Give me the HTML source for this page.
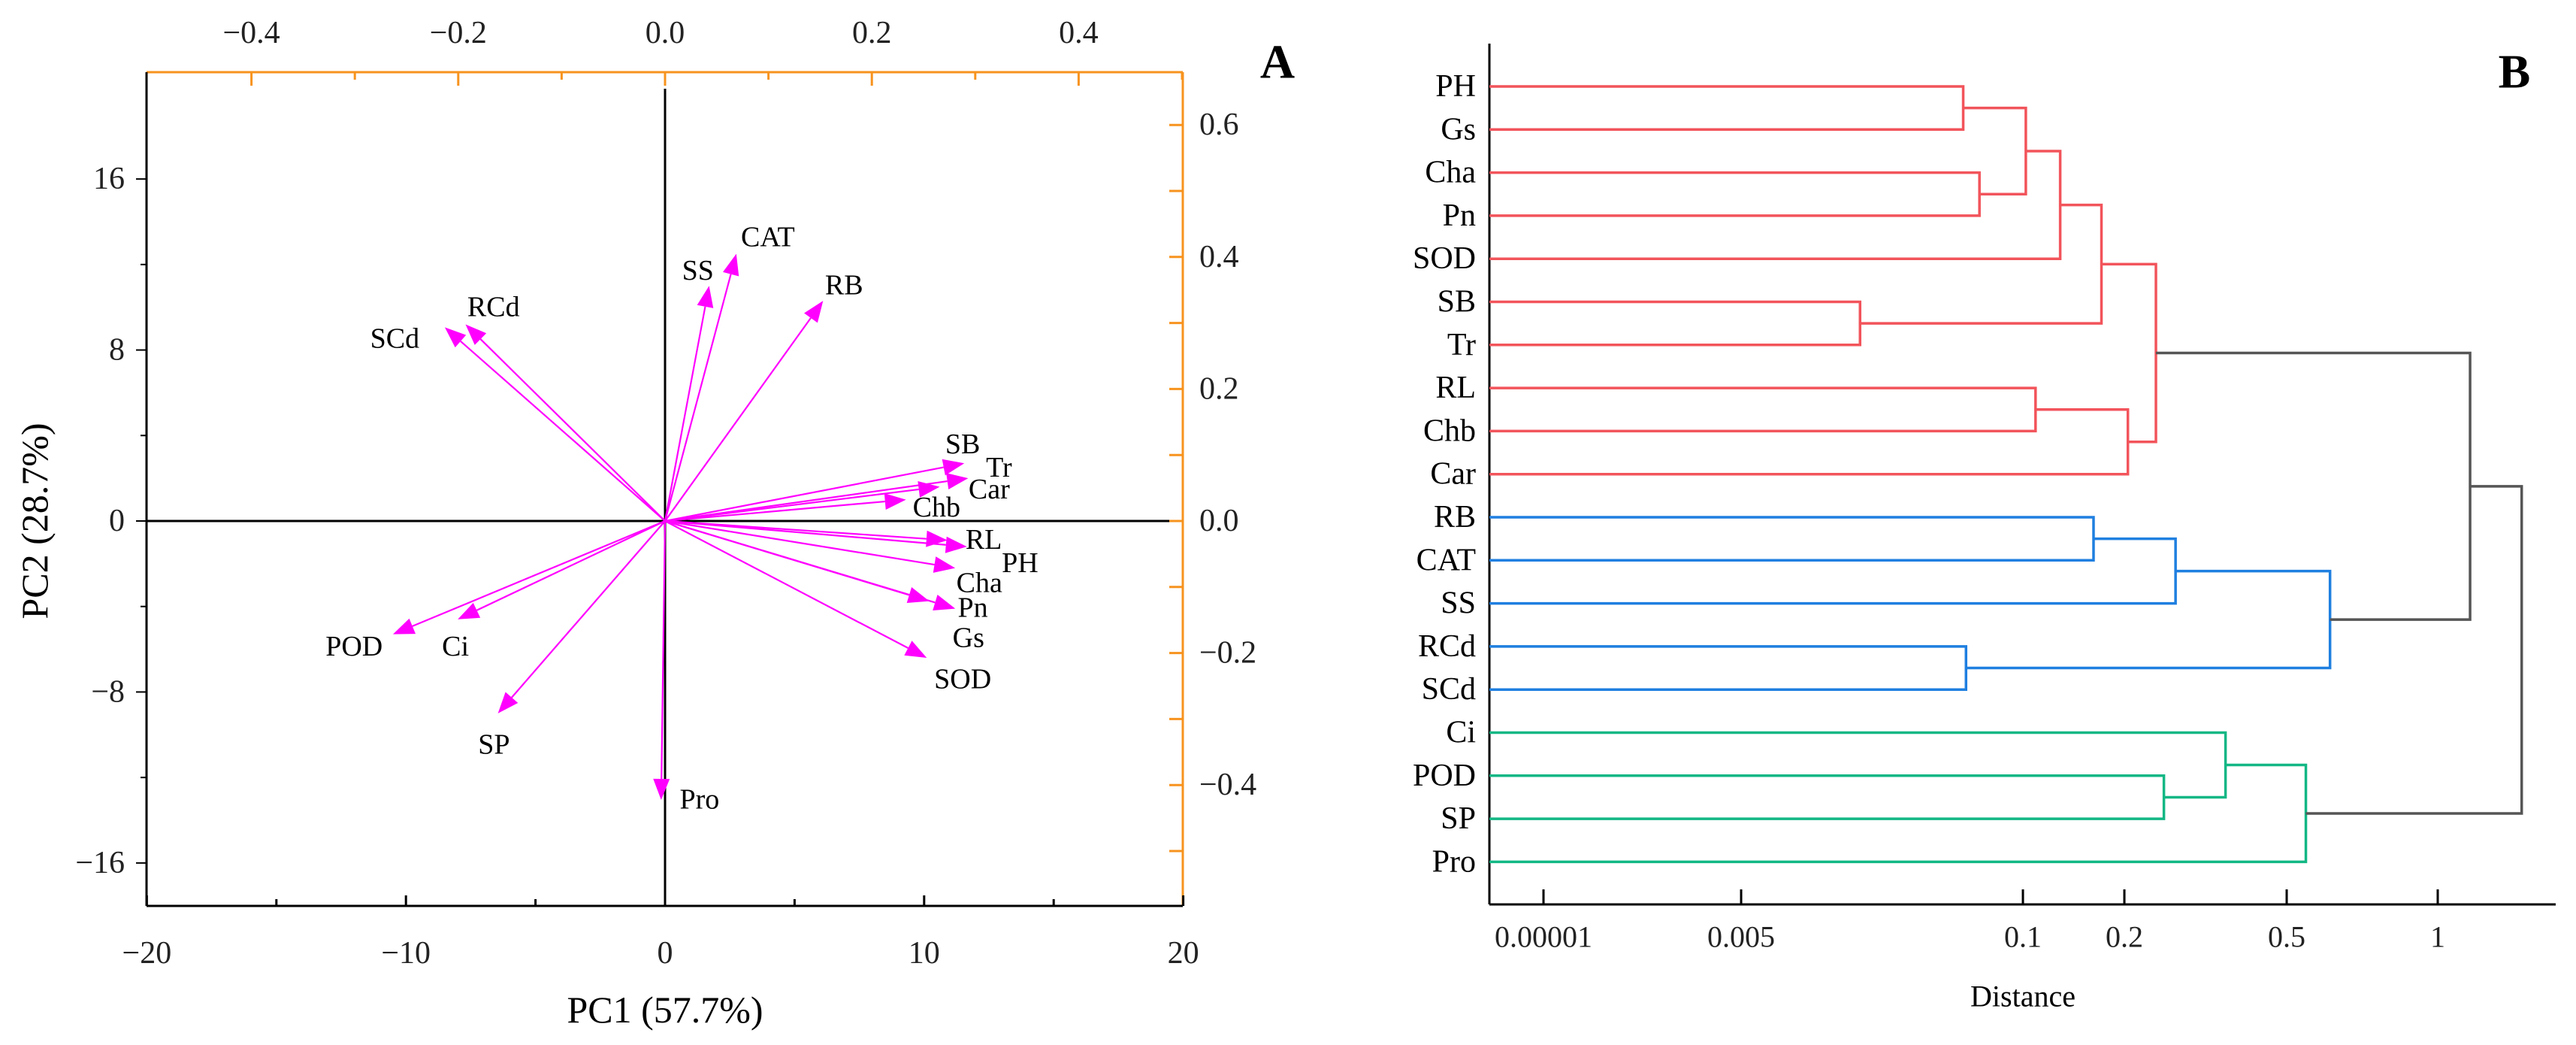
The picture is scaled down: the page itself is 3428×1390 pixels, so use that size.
<!DOCTYPE html>
<html><head><meta charset="utf-8"><style>
html,body{margin:0;padding:0;background:#fff;}
svg{display:block;font-family:"Liberation Serif","DejaVu Serif",serif;}
svg text{font-family:"Liberation Serif","DejaVu Serif",serif;}
</style></head><body>
<svg id="s" width="3428" height="1390" viewBox="0 0 3428 1390"></svg>
<script>
// ---------- Data: PCA biplot ----------
const varNames = ["SS","CAT","RB","RCd","SCd","SB","Tr","Car","Chb","RL","PH","Cha","Pn","Gs","SOD","POD","Ci","SP","Pro"];
const pc1Loadings = [1.7,2.75,6.1,-7.7,-8.5,11.55,11.7,10.6,9.3,10.9,11.65,11.2,11.2,10.2,10.1,-10.5,-8.0,-6.45,-0.15];
const pc2Loadings = [11.0,12.5,10.3,9.2,9.06,2.7,2.0,1.6,1.0,-0.9,-1.2,-2.2,-4.1,-3.75,-6.4,-5.3,-4.6,-9.0,-13.05];
const labelX = [1.27,3.97,6.91,-6.62,-10.43,11.49,12.89,12.51,10.48,12.3,13.7,12.13,11.88,11.71,11.49,-12.0,-8.09,-6.6,1.33];
const labelY = [11.72,13.28,11.03,10.0,8.53,3.59,2.5,1.47,0.63,-0.88,-1.97,-2.9,-4.06,-5.47,-7.4,-5.88,-5.88,-10.47,-13.03];
const xTicks = [-20,-10,0,10,20];
const yTicks = [-16,-8,0,8,16];
const topTicks = [-0.4,-0.2,0.0,0.2,0.4];
const rightTicks = [-0.4,-0.2,0.0,0.2,0.4,0.6];
// ---------- Data: dendrogram ----------
const leaves = ["PH","Gs","Cha","Pn","SOD","SB","Tr","RL","Chb","Car","RB","CAT","SS","RCd","SCd","Ci","POD","SP","Pro"];
const mergeA = [0,2,19,21,5,22,7,25,24,10,28,13,29,27,16,15,34,32];
const mergeB = [1,3,20,4,6,23,8,9,26,11,12,14,30,31,17,33,18,35];
const mergeH = [0.053,0.063,0.102,0.129,0.0177,0.171,0.109,0.204,0.239,0.162,0.267,0.0546,0.61,1.16,0.25,0.354,0.546,1.47];
const mergeC = ["r","r","r","r","r","r","r","r","r","b","b","b","b","g","g","g","g","g"];
const distTicks = [0.00001,0.005,0.1,0.2,0.5,1];
const distTickLabels = ["0.00001","0.005","0.1","0.2","0.5","1"];

const svg=document.getElementById('s');
const NS='http://www.w3.org/2000/svg';
function mk(tag,attrs,parent){const e=document.createElementNS(NS,tag);for(const k in attrs)e.setAttribute(k,attrs[k]);(parent||svg).appendChild(e);return e;}
function txt(x,y,s,size,anchor,parent,extra){const t=mk('text',Object.assign({x:x,y:y,'font-size':size,'font-family':'Liberation Serif, DejaVu Serif, serif','text-anchor':anchor||'middle','dominant-baseline':'central',fill:'#000'},extra||{}),parent);t.textContent=s;return t;}

// ----- Panel A scales -----
const X0=195,X1=1574,Y0=96,Y1=1205;
const sx=v=>885+v*34.48;
const sy=v=>693-v*28.43;
const stx=v=>885+v*1376;
const sry=v=>693-v*878;
const gA=mk('g',{});


let l;
l=mk('line',{x1:X0,y1:Y0,x2:X1,y2:Y0,stroke:'#f7931e','stroke-width':3},gA);

l=mk('line',{x1:X1,y1:Y0,x2:X1,y2:Y1,stroke:'#f7931e','stroke-width':3},gA);

l=mk('line',{x1:X0,y1:Y0,x2:X0,y2:Y1,stroke:'#000','stroke-width':3},gA);

l=mk('line',{x1:X0,y1:Y1,x2:X1,y2:Y1,stroke:'#000','stroke-width':3},gA);

l=mk('line',{x1:sx(0),y1:118,x2:sx(0),y2:Y1,stroke:'#000','stroke-width':3},gA);

l=mk('line',{x1:X0,y1:sy(0),x2:1556,y2:sy(0),stroke:'#000','stroke-width':3},gA);

for(let v=-20;v<=20;v+=5){mk('line',{x1:sx(v),y1:Y1,x2:sx(v),y2:Y1-(v%10===0?14:9),stroke:'#000','stroke-width':3},gA);}
xTicks.forEach(v=>{const t=txt(sx(v),1268,v<0?'\u2212'+Math.abs(v):String(v),42,'middle',gA,{fill:'#222'});});
for(let v=-16;v<=18;v+=4){mk('line',{x1:X0,y1:sy(v),x2:X0-(v%8===0?14:8),y2:sy(v),stroke:'#000','stroke-width':2},gA);}
yTicks.forEach(v=>{const t=txt(166,sy(v),v<0?'\u2212'+Math.abs(v):String(v),42,'end',gA,{fill:'#222'});});
for(let i=-4;i<=5;i++){const v=i/10;const x=stx(v);if(x<X0||x>X1)continue;mk('line',{x1:x,y1:Y0,x2:x,y2:Y0+(i%2===0?18:10),stroke:'#f7931e','stroke-width':3},gA);}
topTicks.forEach(v=>{const t=txt(stx(v),44,(v<0?'\u2212':'')+Math.abs(v).toFixed(1),42,'middle',gA,{fill:'#222'});});
for(let i=-5;i<=6;i++){const v=i/10;const y=sry(v);if(y<Y0||y>Y1)continue;mk('line',{x1:X1,y1:y,x2:X1-18,y2:y,stroke:'#f7931e','stroke-width':3},gA);}
rightTicks.forEach(v=>{const t=txt(1596,sry(v),(v<0?'\u2212':'')+Math.abs(v).toFixed(1),42,'start',gA,{fill:'#222'});});
let t=txt(885,1343,'PC1 (57.7%)',50,'middle',gA);
t=txt(46,693,'PC2 (28.7%)',50,'middle',gA,{transform:'rotate(-90 46 693)'});
t=txt(1700,82,'A',64,'middle',svg,{'font-weight':'bold'});
varNames.forEach((n,i)=>{
  const x0=sx(0),y0=sy(0),x1=sx(pc1Loadings[i]),y1=sy(pc2Loadings[i]);
  const dx=x1-x0,dy=y1-y0,L=Math.hypot(dx,dy),ux=dx/L,uy=dy/L;
  const hl=28,hw=11;
  const bx=x1-ux*hl,by=y1-uy*hl;
  const g=mk('g',{},gA);
  
  
  mk('line',{x1:x0,y1:y0,x2:bx,y2:by,stroke:'#ff00ff','stroke-width':2.2},g);
  mk('polygon',{points:`${x1},${y1} ${bx-uy*hw},${by+ux*hw} ${bx+uy*hw},${by-ux*hw}`,fill:'#ff00ff'},g);
  const lt=txt(sx(labelX[i]),sy(labelY[i]),n,38,'middle',g);
  
  
});

// ----- Panel B -----
const gB=mk('g',{});


const AX=1982, AY=1203;
const dtPos=[2054,2317,2692,2827,3043,3244];
function dxs(v){const lv=Math.log10(v);const lt=distTicks.map(Math.log10);
  let i=0;while(i<lt.length-2&&lv>lt[i+1])i++;
  return dtPos[i]+(lv-lt[i])/(lt[i+1]-lt[i])*(dtPos[i+1]-dtPos[i]);}
const leafY=i=>115+i*57.3;
const cols={r:'#f2545b',b:'#1f7fe0',g:'#13b784',k:'#555'};
l=mk('line',{x1:AX,y1:58,x2:AX,y2:AY,stroke:'#000','stroke-width':3},gB);

l=mk('line',{x1:AX,y1:AY,x2:3401,y2:AY,stroke:'#000','stroke-width':3},gB);

distTicks.forEach((v,i)=>{mk('line',{x1:dxs(v),y1:AY,x2:dxs(v),y2:AY-20,stroke:'#000','stroke-width':3},gB);
  const tt=txt(dxs(v),1246,distTickLabels[i],40,'middle',gB,{fill:'#222'});});
t=txt(2692,1325,'Distance',40,'middle',gB);
t=txt(3346,95,'B',64,'middle',svg,{'font-weight':'bold'});
const nodeX=[],nodeY=[];
leaves.forEach((n,i)=>{nodeX.push(AX);nodeY.push(leafY(i));
  const lt=txt(1964,leafY(i),n,42,'end',gB);});
mergeA.forEach((a,k)=>{
  const b=mergeB[k],h=dxs(mergeH[k]);const c=cols[mergeC[k]];
  const pth=mk('path',{d:`M${nodeX[a]},${nodeY[a]}H${h}V${nodeY[b]}H${nodeX[b]}`,fill:'none',stroke:(k===13||k===17)?cols.k:c,'stroke-width':3.5},gB);
  
  
  nodeX.push(h);nodeY.push((nodeY[a]+nodeY[b])/2);
});
</script>
</body></html>
